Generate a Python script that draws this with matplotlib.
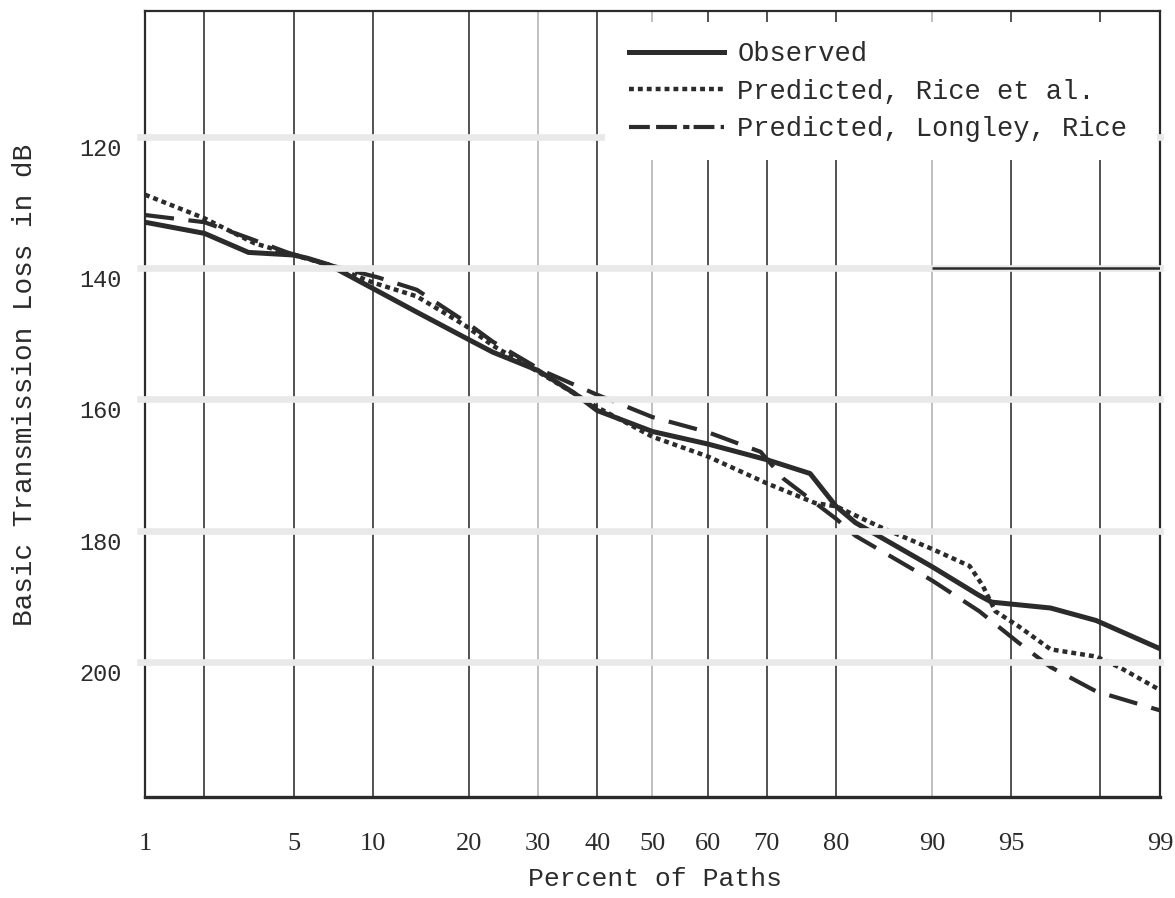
import math
import numpy as np
import matplotlib
matplotlib.use("Agg")
import matplotlib.pyplot as plt
from matplotlib.lines import Line2D
from matplotlib.patches import Rectangle
from matplotlib.transforms import ScaledTranslation

# --- data (percent of paths, basic transmission loss in dB) ---
pct_obs = [1, 2, 3.2, 5, 5.7, 6.9, 10, 14, 20, 23.2, 30, 35.9, 40, 50, 60, 70,
           76.5, 80, 82.4, 90, 93.3, 94.0, 96.6, 97.9, 99]
loss_obs = [133.0, 134.7, 137.6, 138.0, 138.5, 139.5, 143.1, 146.7, 150.9, 152.8,
            155.6, 159.0, 161.7, 164.9, 166.8, 169.2, 171.3, 176.3, 178.8, 185.5,
            189.9, 190.9, 191.8, 193.7, 198.0]

pct_rice = [1, 2, 3.4, 5, 6.9, 10, 14, 19.6, 23.2, 30, 40, 50, 60, 70, 77.2, 80,
            85.4, 90, 92.7, 93.5, 94.2, 95.3, 96.6, 97.9, 98.4, 99]
loss_rice = [128.8, 132.4, 136.2, 138.0, 139.5, 142.2, 144.3, 148.8, 151.8, 155.8,
             161.2, 165.7, 168.7, 172.8, 175.8, 176.3, 179.6, 182.8, 185.4, 188.4,
             192.3, 194.5, 198.1, 199.2, 200.9, 204.3]

pct_lr = [1, 2, 3.2, 4.7, 6.9, 10.4, 14, 19.6, 23.2, 30.6, 40, 50, 60, 69, 72.6,
          80, 82.4, 90, 93.3, 95.3, 96.6, 97.9, 99]
loss_lr = [131.9, 133.0, 135.4, 137.6, 139.5, 141.4, 143.3, 148.2, 151.2, 155.6,
           159.3, 162.7, 165.0, 168.0, 172.1, 178.2, 180.8, 187.6, 192.3, 197.0,
           200.8, 204.5, 207.4]

x_ticks = [1, 5, 10, 20, 30, 40, 50, 60, 70, 80, 90, 95, 99]
x_grid = [2, 5, 10, 20, 30, 40, 50, 60, 70, 80, 90, 95, 98]
faded_grid = [30, 50, 90]
y_ticks = [120, 140, 160, 180, 200]

# --- normal probability scale for the x axis ---
z_grid = np.linspace(-6, 6, 6001)
cdf_grid = np.array([0.5 * (1 + math.erf(z / math.sqrt(2))) for z in z_grid])


def prob_fwd(p):
    p = np.clip(np.asarray(p, dtype=float) / 100.0, 1e-8, 1 - 1e-8)
    return np.interp(p, cdf_grid, z_grid)


def prob_inv(z):
    return np.interp(np.asarray(z, dtype=float), z_grid, cdf_grid) * 100.0


ink = '#2b2b2b'
fig = plt.figure(figsize=(11.75, 8.98), dpi=100)
ax = fig.add_axes([0.1234, 0.1125, 0.8638, 0.8753])
ax.set_xscale('function', functions=(prob_fwd, prob_inv))
ax.set_xlim(1, 99)
ax.set_ylim(220.6, 100.8)

# vertical rulings
for p in x_grid:
    col = '#b5b5b5' if p in faded_grid else '#353535'
    ax.axvline(p, color=col, lw=1.2, zorder=1)

# curves
ax.plot(pct_obs, loss_obs, color=ink, lw=3.6, solid_capstyle='round', zorder=3)
ax.plot(pct_rice, loss_rice, color=ink, lw=3.2, linestyle=(0, (1.1, 0.9)),
        dash_capstyle='butt', zorder=3)
ax.plot(pct_lr, loss_lr, color=ink, lw=3.0, linestyle=(0, (7, 3.5)),
        dash_capstyle='butt', zorder=3)

for s in ax.spines.values():
    s.set_color(ink)
    s.set_linewidth(1.6)
    s.set_zorder(2.5)
ax.spines['bottom'].set_linewidth(2.4)

# washed-out horizontal rulings (drawn over everything)
for v in y_ticks:
    ax.axhline(v, xmin=-0.005, xmax=1.0, color='#e9e9e9', lw=4.8, zorder=5, clip_on=False)
ax.hlines(140, 90, 99, color=ink, lw=1.8, zorder=5.5)

# legend on a white patch
ax.add_patch(Rectangle((0.453, 0.810), 0.544, 0.176, transform=ax.transAxes,
                       facecolor='white', edgecolor='none', zorder=6))
handles = [
    Line2D([], [], color=ink, lw=3.6),
    Line2D([], [], color=ink, lw=3.2, linestyle=(0, (1.1, 0.9)), dash_capstyle='butt'),
    Line2D([], [], color=ink, lw=3.0, linestyle=(0, (5, 1.5, 5, 1.5, 1.5, 1)), dash_capstyle='butt'),
]
labels = ['Observed', 'Predicted, Rice et al.', 'Predicted, Longley, Rice']
leg = ax.legend(handles, labels, loc='upper left', bbox_to_anchor=(0.466, 0.975),
                frameon=False, handlelength=3.5, handletextpad=0.5, labelspacing=0.42,
                borderaxespad=0, prop={'family': 'Liberation Mono', 'size': 19.5})
leg.set_zorder(7)
for t in leg.get_texts():
    t.set_color(ink)

# ticks
ax.set_xticks(x_ticks)
ax.set_xticklabels([str(v) for v in x_ticks], family='Liberation Serif', fontsize=19, color=ink)
ax.set_yticks(y_ticks)
ax.set_yticklabels([str(v) for v in y_ticks], family='Liberation Mono', fontsize=17, color=ink)
ax.tick_params(axis='x', length=0, pad=26)
ax.tick_params(axis='y', length=0, pad=17)
ax.minorticks_off()
for lab in ax.get_yticklabels():
    lab.set_transform(lab.get_transform() + ScaledTranslation(0, -0.1, fig.dpi_scale_trans))

fig.text(655 / 1175, 1 - 879 / 898, 'Percent of Paths', ha='center', va='center',
         family='Liberation Mono', fontsize=19, color=ink)
fig.text(25 / 1175, 1 - 385 / 898, 'Basic Transmission Loss in dB', ha='center', va='center',
         rotation=90, family='Liberation Mono', fontsize=20, color=ink)

fig.savefig('out.png', dpi=100, facecolor='white')
